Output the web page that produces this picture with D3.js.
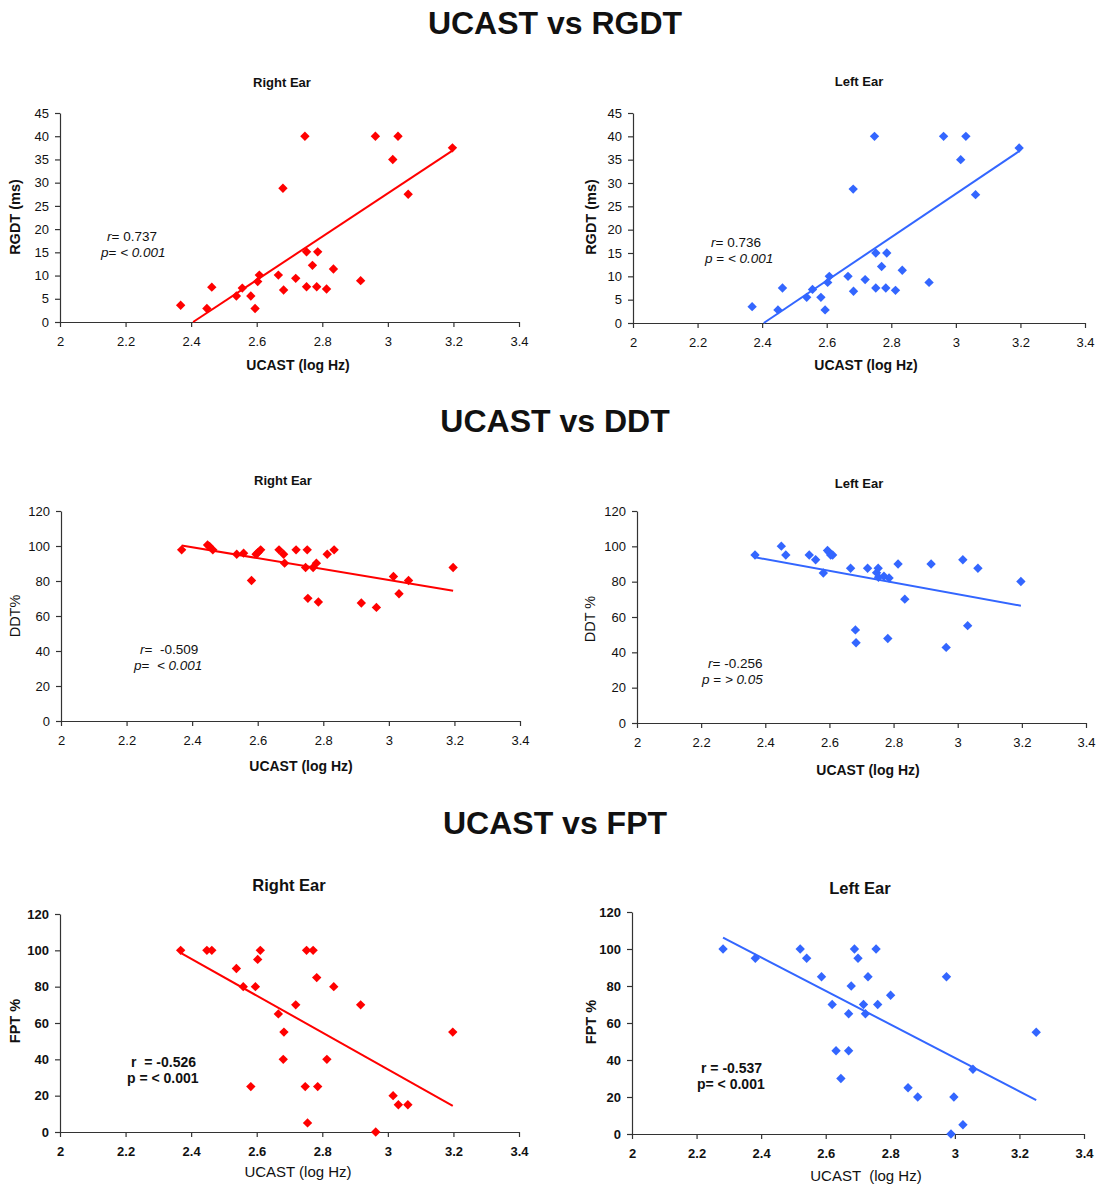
<!DOCTYPE html>
<html>
<head>
<meta charset="utf-8">
<script src="https://cdn.jsdelivr.net/npm/d3@7"></script>
<style>
  html, body { margin: 0; padding: 0; background: #fff; }
  svg text { font-family: "Liberation Sans", Arial, sans-serif; fill: #111; white-space: pre; }
</style>
</head>
<body>
<svg id="chart" width="1098" height="1184"></svg>
<script>
// ---------- DATA ----------
const xTicks = [2, 2.2, 2.4, 2.6, 2.8, 3, 3.2, 3.4];
const xTickLabels = ["2", "2.2", "2.4", "2.6", "2.8", "3", "3.2", "3.4"];
const rgdtTicks = [0, 5, 10, 15, 20, 25, 30, 35, 40, 45];
const pctTicks = [0, 20, 40, 60, 80, 100, 120];

const sectionTitles = ["UCAST vs RGDT", "UCAST vs DDT", "UCAST vs FPT"];
const earTitles = ["Right Ear", "Left Ear"];

// RGDT (ms)
const rgdtRightX = [2.368,2.448,2.463,2.538,2.556,2.582,2.595,2.603,2.608,2.666,2.680,2.682,2.719,2.747,2.752,2.752,2.770,2.783,2.786,2.813,2.834,2.917,2.962,3.015,3.031,3.062,3.197];
const rgdtRightY = [3.6,2.9,7.5,5.6,7.3,5.6,2.9,8.7,10.1,10.1,28.8,6.9,9.4,40,15.1,7.6,12.2,7.6,15.1,7.1,11.4,8.9,40,35,40,27.5,37.5];
const rgdtRightTrend = [[2.406, 0], [3.197, 36.9]];

const rgdtLeftX = [2.369,2.449,2.463,2.538,2.556,2.582,2.595,2.603,2.608,2.666,2.682,2.683,2.719,2.748,2.752,2.752,2.770,2.783,2.786,2.813,2.834,2.917,2.962,3.015,3.031,3.061,3.196];
const rgdtLeftY = [3.5,2.8,7.5,5.5,7.2,5.5,2.8,8.7,10.0,10.0,28.7,6.8,9.3,40,15.0,7.5,12.1,7.5,15.0,7.0,11.3,8.7,40,35,40,27.5,37.5];
const rgdtLeftTrend = [[2.405, 0], [3.196, 36.8]];

// DDT %
const ddtRightX = [2.368,2.447,2.453,2.463,2.536,2.557,2.581,2.595,2.601,2.609,2.665,2.679,2.682,2.717,2.746,2.751,2.753,2.769,2.779,2.785,2.812,2.833,2.916,2.962,3.014,3.031,3.060,3.196];
const ddtRightY = [97.8,100.6,99.7,97.8,95.3,95.9,80.3,95.3,96.3,97.8,97.8,95.3,90.2,97.8,87.7,97.8,70.1,87.7,90.2,68.0,95.3,97.8,67.4,64.9,82.6,72.7,80.3,87.7];
const ddtRightTrend = [[2.368, 100.3], [3.196, 74.4]];

const ddtLeftX = [2.368,2.450,2.464,2.537,2.557,2.581,2.594,2.599,2.604,2.610,2.666,2.681,2.683,2.719,2.747,2.752,2.753,2.770,2.782,2.786,2.814,2.835,2.917,2.964,3.016,3.031,3.063,3.197];
const ddtLeftY = [95.1,100.1,95.1,95.1,92.4,84.9,97.7,96.6,95.1,95.1,87.6,52.7,45.4,87.6,85.1,87.6,82.5,83.1,47.8,82.1,90.0,70.1,90.0,42.8,92.4,55.1,87.6,80.1];
const ddtLeftTrend = [[2.368, 93.8], [3.197, 66.4]];

// FPT %
const fptRightX = [2.368,2.448,2.463,2.538,2.559,2.582,2.596,2.603,2.611,2.666,2.681,2.683,2.719,2.748,2.752,2.755,2.772,2.783,2.786,2.814,2.835,2.917,2.963,3.016,3.032,3.061,3.198];
const fptRightY = [100,100,100,90,80,25,80,95,100,65,40,55,70,25,100,5,100,85,25,40,80,70,0,20,15,15,55];
const fptRightTrend = [[2.368, 98.6], [3.198, 14.4]];

const fptLeftX = [2.282,2.382,2.521,2.541,2.587,2.620,2.632,2.647,2.671,2.671,2.679,2.689,2.700,2.717,2.723,2.731,2.756,2.761,2.801,2.855,2.885,2.974,2.988,2.997,3.025,3.056,3.252];
const fptLeftY = [100,95,100,95,85,70,45,30,65,45,80,100,95,70,65,85,100,70,75,25,20,85,0,20,5,35,55];
const fptLeftTrend = [[2.282, 106.2], [3.252, 18.3]];

// statistics text (segments: [text, italic])
const statsRGDTRight = [[["r", 1], ["= 0.737", 0]], [["p", 1], ["= ", 0], ["< 0.001", 1]]];
const statsRGDTLeft  = [[["r", 1], ["= 0.736", 0]], [["p", 1], [" = ", 0], ["< 0.001", 1]]];
const statsDDTRight  = [[["r", 1], ["=  -0.509", 0]], [["p", 1], ["=  ", 0], ["< 0.001", 1]]];
const statsDDTLeft   = [[["r", 1], ["= -0.256", 0]], [["p", 1], [" = ", 0], ["> 0.05", 1]]];
const statsFPTRight  = [[["r  = -0.526", 0]], [["p = < 0.001", 0]]];
const statsFPTLeft   = [[["r = -0.537", 0]], [["p= < 0.001", 0]]];

// ---------- LAYOUT ----------
const RED = "#ff0000", BLUE = "#3366ff";
const panels = [
  { xs: rgdtRightX, ys: rgdtRightY, trend: rgdtRightTrend, color: RED, title: earTitles[0], ytitle: "RGDT (ms)", yTicks: rgdtTicks, yMax: 45,
    x0: 60, x1: 519, y0: 322, y1: 113, titleX: 282, titleY: 87, titleSize: 13, xtX: 298, xtY: 370, xtBold: true, xtSize: 14, ytX: 20, ytY: 217, ytBold: true, ytSize: 14.5,
    tickBold: false, stats: statsRGDTRight, sX: 107, sY: 241, sBold: false },
  { xs: rgdtLeftX, ys: rgdtLeftY, trend: rgdtLeftTrend, color: BLUE, title: earTitles[1], ytitle: "RGDT (ms)", yTicks: rgdtTicks, yMax: 45,
    x0: 633, x1: 1085, y0: 323, y1: 113, titleX: 859, titleY: 86, titleSize: 13, xtX: 866, xtY: 370, xtBold: true, xtSize: 14, ytX: 596, ytY: 217, ytBold: true, ytSize: 14.5,
    tickBold: false, stats: statsRGDTLeft, sX: 711, sY: 247, sBold: false },
  { xs: ddtRightX, ys: ddtRightY, trend: ddtRightTrend, color: RED, title: earTitles[0], ytitle: "DDT%", yTicks: pctTicks, yMax: 120,
    x0: 61, x1: 520, y0: 721, y1: 511, titleX: 283, titleY: 485, titleSize: 13, xtX: 301, xtY: 771, xtBold: true, xtSize: 14, ytX: 20, ytY: 616, ytBold: false, ytSize: 14.5,
    tickBold: false, stats: statsDDTRight, sX: 140, sY: 654, sBold: false },
  { xs: ddtLeftX, ys: ddtLeftY, trend: ddtLeftTrend, color: BLUE, title: earTitles[1], ytitle: "DDT %", yTicks: pctTicks, yMax: 120,
    x0: 637, x1: 1086, y0: 723, y1: 511, titleX: 859, titleY: 488, titleSize: 13, xtX: 868, xtY: 775, xtBold: true, xtSize: 14, ytX: 595, ytY: 619, ytBold: false, ytSize: 14.5,
    tickBold: false, stats: statsDDTLeft, sX: 708, sY: 668, sBold: false },
  { xs: fptRightX, ys: fptRightY, trend: fptRightTrend, color: RED, title: earTitles[0], ytitle: "FPT %", yTicks: pctTicks, yMax: 120,
    x0: 60, x1: 519, y0: 1132, y1: 914, titleX: 289, titleY: 891, titleSize: 16.5, xtX: 298, xtY: 1177, xtBold: false, xtSize: 15, ytX: 20, ytY: 1021, ytBold: true, ytSize: 14.5,
    tickBold: true, stats: statsFPTRight, sX: 131, sY: 1067, sBold: true },
  { xs: fptLeftX, ys: fptLeftY, trend: fptLeftTrend, color: BLUE, title: earTitles[1], ytitle: "FPT %", yTicks: pctTicks, yMax: 120,
    x0: 632, x1: 1084, y0: 1134, y1: 912, titleX: 860, titleY: 894, titleSize: 16.5, xtX: 866, xtY: 1181, xtBold: false, xtSize: 15, ytX: 596, ytY: 1022, ytBold: true, ytSize: 14.5,
    tickBold: true, stats: statsFPTLeft, sX: 701, sY: 1073, sBold: true }
];
const sectionY = [34, 432, 834];

// ---------- DRAW ----------
const svg = d3.select("#chart");

sectionTitles.forEach((t, i) => {
  svg.append("text").attr("x", 555).attr("y", sectionY[i]).attr("text-anchor", "middle")
    .style("font-size", "32px").style("font-weight", "bold").text(t);
});

// square diamond (square rotated 45 degrees)
const diamond = d3.symbol().type(d3.symbolSquare).size(44);

panels.forEach(p => {
  const g = svg.append("g");
  const x = d3.scaleLinear().domain([2, 3.4]).range([p.x0, p.x1]);
  const y = d3.scaleLinear().domain([0, p.yMax]).range([p.y0, p.y1]);

  const tickFont = p.tickBold ? "bold" : "normal";
  const xAxis = d3.axisBottom(x).tickValues(xTicks).tickFormat((d, i) => xTickLabels[i]).tickSize(5).tickSizeOuter(0).tickPadding(10);
  const yAxis = d3.axisLeft(y).tickValues(p.yTicks).tickFormat(d3.format("d")).tickSize(5).tickSizeOuter(0).tickPadding(6);

  const gx = g.append("g").attr("transform", `translate(0,${p.y0})`).call(xAxis);
  const gy = g.append("g").attr("transform", `translate(${p.x0},0)`).call(yAxis);
  [gx, gy].forEach(ax => {
    ax.selectAll("path, line").attr("stroke", "#333").attr("stroke-width", 1.2);
    ax.selectAll("text").style("font-size", "13px").style("font-weight", tickFont).attr("fill", "#111")
      .style("font-family", '"Liberation Sans", Arial, sans-serif');
  });

  // trend line
  g.append("path").datum(p.trend)
    .attr("d", d3.line().x(d => x(d[0])).y(d => y(d[1])))
    .attr("fill", "none").attr("stroke", p.color).attr("stroke-width", 2);

  // points
  g.selectAll(".pt").data(p.xs.map((v, i) => [v, p.ys[i]])).enter().append("path")
    .attr("d", diamond)
    .attr("transform", d => `translate(${x(d[0])},${y(d[1])}) rotate(45)`)
    .attr("fill", p.color);

  // titles
  g.append("text").attr("x", p.titleX).attr("y", p.titleY).attr("text-anchor", "middle")
    .style("font-size", p.titleSize + "px").style("font-weight", "bold").text(p.title);
  g.append("text").attr("x", p.xtX).attr("y", p.xtY).attr("text-anchor", "middle")
    .style("font-size", p.xtSize + "px").style("font-weight", p.xtBold ? "bold" : "normal")
    .text(p.xs === fptLeftX ? "UCAST  (log Hz)" : "UCAST (log Hz)");
  g.append("text").attr("transform", `translate(${p.ytX},${p.ytY}) rotate(-90)`).attr("text-anchor", "middle")
    .style("font-size", p.ytSize + "px").style("font-weight", p.ytBold ? "bold" : "normal").text(p.ytitle);

  // stats annotation
  p.stats.forEach((line, li) => {
    const t = g.append("text").attr("x", p.sX - (li === 1 ? (p.sBold ? 4 : 6) : 0)).attr("y", p.sY + li * 16)
      .style("font-size", p.sBold ? "14px" : "13.5px").style("font-weight", p.sBold ? "bold" : "normal");
    line.forEach(seg => {
      t.append("tspan").style("font-style", seg[1] ? "italic" : "normal").text(seg[0]);
    });
  });
});
</script>
</body>
</html>
